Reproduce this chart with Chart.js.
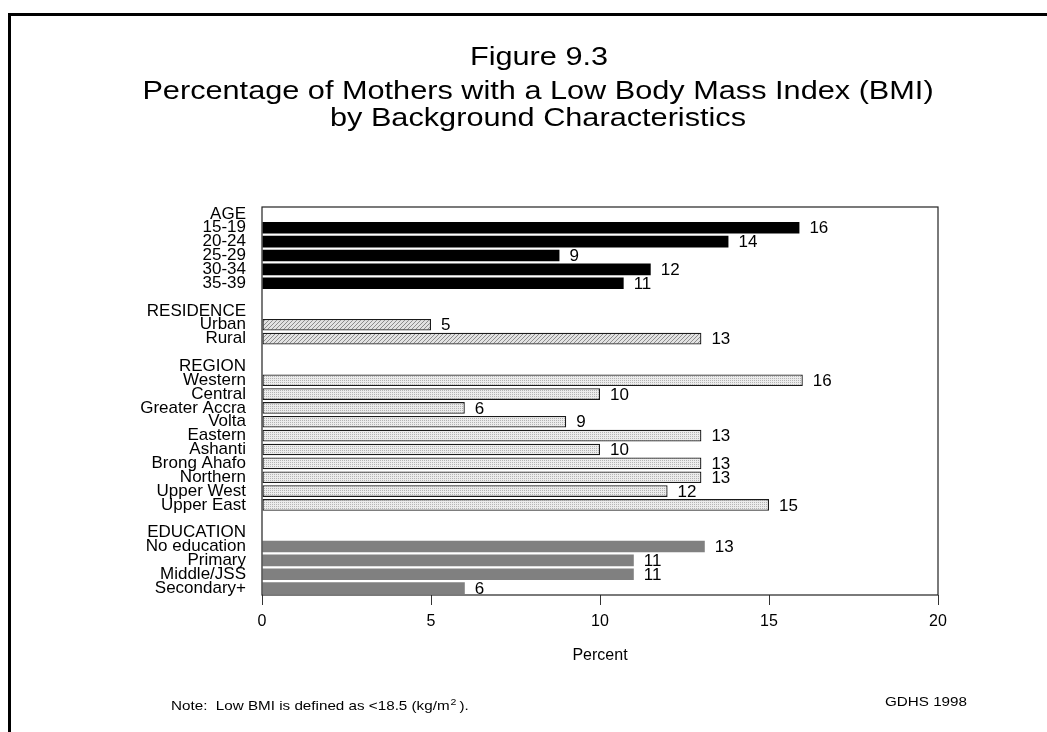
<!DOCTYPE html>
<html>
<head>
<meta charset="utf-8">
<script src="https://cdn.jsdelivr.net/npm/chart.js@4/dist/chart.umd.min.js"></script>
<style>
  body { margin: 0; background: #fff; }
  canvas { display: block; }
</style>
</head>
<body>
<canvas id="chart" width="1047" height="732"></canvas>
<script>
const FONT = "'Liberation Sans', Arial, sans-serif";

const groupTitles = ["AGE", "RESIDENCE", "REGION", "EDUCATION"];

const ageLabels = ["15-19", "20-24", "25-29", "30-34", "35-39"];
const ageValues = [15.9, 13.8, 8.8, 11.5, 10.7];

const residenceLabels = ["Urban", "Rural"];
const residenceValues = [5.0, 13.0];

const regionLabels = ["Western", "Central", "Greater Accra", "Volta", "Eastern",
  "Ashanti", "Brong Ahafo", "Northern", "Upper West", "Upper East"];
const regionValues = [16.0, 10.0, 6.0, 9.0, 13.0, 10.0, 13.0, 13.0, 12.0, 15.0];

const educationLabels = ["No education", "Primary", "Middle/JSS", "Secondary+"];
const educationValues = [13.1, 11.0, 11.0, 6.0];

const xTicks = [0, 5, 10, 15, 20];

// small fill patterns for the light bars
function makePattern(size, bg, fg, test) {
  const c = document.createElement("canvas");
  c.width = size; c.height = size;
  const g = c.getContext("2d");
  g.fillStyle = bg;
  g.fillRect(0, 0, size, size);
  g.fillStyle = fg;
  for (let x = 0; x < size; x++) {
    for (let y = 0; y < size; y++) {
      if (test(x, y)) g.fillRect(x, y, 1, 1);
    }
  }
  return g.createPattern(c, "repeat");
}
const hatch = makePattern(4, "#e2e2e2", "#8c8c8c", (x, y) => (x + y) % 4 === 0);
const dots = makePattern(2, "#ececec", "#b4b4b4", (x, y) => x === 0 && y === 0);

const groups = [
  { labels: ageLabels, values: ageValues, bg: "#000000", border: 0 },
  { labels: residenceLabels, values: residenceValues, bg: hatch, border: 1.3 },
  { labels: regionLabels, values: regionValues, bg: dots, border: 1.3 },
  { labels: educationLabels, values: educationValues, bg: "#808080", border: 0 },
];

const categories = [];
const seriesData = groups.map(() => []);
groups.forEach((grp, gi) => {
  if (gi > 0) {
    categories.push("");
    seriesData.forEach((d) => d.push(null));
  }
  categories.push(groupTitles[gi]);
  seriesData.forEach((d) => d.push(null));
  grp.labels.forEach((lab, li) => {
    categories.push(lab);
    seriesData.forEach((d, si) => d.push(si === gi ? grp.values[li] : null));
  });
});

// text a bit wider than the font, like the source print
function wideText(ctx, text, x, y, sx) {
  ctx.save();
  ctx.translate(x, y);
  ctx.scale(sx, 1);
  ctx.fillText(text, 0, 0);
  ctx.restore();
}

const pageDecor = {
  id: "pageDecor",
  beforeDraw(chart) {
    const ctx = chart.ctx;
    ctx.save();
    ctx.fillStyle = "#fff";
    ctx.fillRect(0, 0, chart.width, chart.height);
    ctx.strokeStyle = "#000";
    ctx.lineWidth = 3;
    ctx.beginPath();
    ctx.moveTo(9.5, 732);
    ctx.lineTo(9.5, 14.5);
    ctx.lineTo(1047, 14.5);
    ctx.stroke();

    ctx.fillStyle = "#000";
    ctx.textAlign = "center";
    ctx.textBaseline = "alphabetic";
    ctx.font = "26px " + FONT;
    wideText(ctx, "Figure 9.3", 539, 65, 1.18);
    wideText(ctx, "Percentage of Mothers with a Low Body Mass Index (BMI)", 538, 99, 1.18);
    wideText(ctx, "by Background Characteristics", 538, 126, 1.18);

    ctx.textAlign = "left";
    const sx = 1.17;
    ctx.font = "13px " + FONT;
    const note = "Note:  Low BMI is defined as <18.5 (kg/m";
    wideText(ctx, note, 171, 710, sx);
    let x = 171 + ctx.measureText(note).width * sx + 1;
    ctx.font = "9px " + FONT;
    wideText(ctx, "2", x, 705, sx);
    x += ctx.measureText("2").width * sx + 3;
    ctx.font = "13px " + FONT;
    wideText(ctx, ").", x, 710, sx);
    ctx.textAlign = "right";
    wideText(ctx, "GDHS 1998", 967, 706, sx);
    ctx.restore();
  },
  afterDatasetsDraw(chart) {
    const ctx = chart.ctx;
    const a = chart.chartArea;
    ctx.save();
    ctx.strokeStyle = "#222";
    ctx.lineWidth = 1.2;
    ctx.strokeRect(a.left, a.top, a.right - a.left, a.bottom - a.top);

    ctx.fillStyle = "#000";
    ctx.font = "17px " + FONT;
    ctx.textAlign = "left";
    ctx.textBaseline = "middle";
    chart.data.datasets.forEach((ds, i) => {
      chart.getDatasetMeta(i).data.forEach((bar, j) => {
        const v = ds.data[j];
        if (v == null) return;
        ctx.fillText(String(Math.round(v)), bar.x + 10, bar.y + 1);
      });
    });
    ctx.restore();
  },
};

new Chart(document.getElementById("chart"), {
  type: "bar",
  data: {
    labels: categories,
    datasets: groups.map((grp, gi) => ({
      data: seriesData[gi],
      backgroundColor: grp.bg,
      borderColor: "#1a1a1a",
      borderWidth: grp.border,
      borderSkipped: false,
      grouped: false,
      barPercentage: 0.84,
      categoryPercentage: 1,
    })),
  },
  options: {
    indexAxis: "y",
    responsive: false,
    animation: false,
    layout: { padding: { left: 0, top: 207, right: 109, bottom: 57 } },
    plugins: {
      legend: { display: false },
      tooltip: { enabled: false },
    },
    scales: {
      x: {
        min: 0,
        max: 20,
        afterBuildTicks: (scale) => { scale.ticks = xTicks.map((v) => ({ value: v })); },
        afterFit: (scale) => { scale.height = 80; },
        grid: { drawOnChartArea: false, drawTicks: true, tickLength: 10, color: "#333" },
        border: { display: false },
        ticks: { color: "#000", font: { family: FONT, size: 16 }, padding: 7, maxRotation: 0 },
        title: {
          display: true,
          text: "Percent",
          color: "#000",
          font: { family: FONT, size: 16 },
          padding: { top: 0, bottom: 10 },
        },
      },
      y: {
        afterFit: (scale) => { scale.width = 262; },
        grid: { display: false, drawTicks: false, tickLength: 0 },
        border: { display: false },
        ticks: {
          autoSkip: false,
          color: "#000",
          font: { family: FONT, size: 17 },
          padding: 16,
        },
      },
    },
  },
  plugins: [pageDecor],
});
</script>
</body>
</html>
